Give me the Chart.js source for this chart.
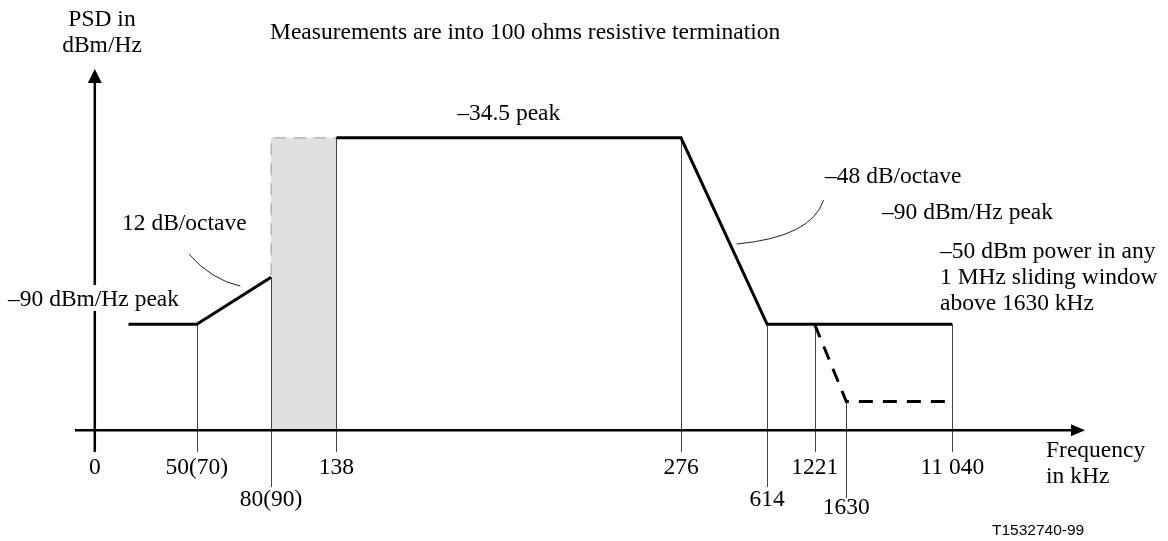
<!DOCTYPE html>
<html>
<head>
<meta charset="utf-8">
<title>PSD mask</title>
<script src="https://cdn.jsdelivr.net/npm/chart.js@4.4.1/dist/chart.umd.min.js"></script>
<style>
  body { margin: 0; background: #fff; }
</style>
</head>
<body>
<canvas id="psd" width="1168" height="541"></canvas>
<script>
// labelled frequencies, placed on a schematic (not to scale) axis
var freqLabels = ['0', '50(70)', '80(90)', '138', '276', '614', '1221', '1630', '11 040'];
var freqPos = [0, 10.3, 17.8, 24.4, 59.2, 67.9, 72.7, 75.9, 86.6];
// mask level where each tick line starts (dBm/Hz)
var tickTop = [null, -90, -76, -34.5, -34.5, -90, -90, -113, -90];

// mask segments
var lowBandX = [3.4, 10.3, 17.8];
var lowBandY = [-90, -90, -76];
var passBandX = [24.4, 59.2, 67.9, 86.6];
var passBandY = [-34.5, -34.5, -90, -90];
var windowX = [72.7, 75.9, 86.6];
var windowY = [-90, -113, -113];

var peakLevel = -34.5;
var axisLevel = -121.5;

// which row each tick label sits on
var tickRow = [0, 0, 1, 0, 0, 1, 0, 2, 0];
var rowLine = [452, 487, 498];
var rowText = [474, 506, 514];

var SERIF = '23.5px "Liberation Serif", "Times New Roman", serif';

function pts(xs, ys) {
    return xs.map(function (x, i) { return { x: x, y: ys[i] }; });
}

function seg(xs, ys, dash) {
    return {
        data: pts(xs, ys),
        showLine: true,
        borderColor: '#000',
        borderWidth: 3,
        borderDash: dash || [],
        pointRadius: 0,
        clip: false,
        tension: 0
    };
}

var maskPlugin = {
    id: 'mask',
    beforeDatasetsDraw: function (chart) {
        var ctx = chart.ctx;
        var xs = chart.scales.x, ys = chart.scales.y;
        var X = function (v) { return xs.getPixelForValue(v); };
        var Y = function (v) { return ys.getPixelForValue(v); };
        ctx.save();

        // shaded transition band 80..138
        var bx0 = X(freqPos[2]), bx1 = X(freqPos[3]);
        ctx.fillStyle = '#e0e0e0';
        ctx.fillRect(bx0, Y(peakLevel), bx1 - bx0, Y(axisLevel) - Y(peakLevel));
        ctx.strokeStyle = '#9a9a9a';
        ctx.lineWidth = 1;
        ctx.setLineDash([12, 8]);
        ctx.beginPath();
        ctx.moveTo(bx0, Y(tickTop[2]) - 2);
        ctx.lineTo(bx0, Y(peakLevel));
        ctx.lineTo(bx1, Y(peakLevel));
        ctx.stroke();
        ctx.setLineDash([]);

        // tick lines
        ctx.strokeStyle = '#444';
        ctx.lineWidth = 1;
        for (var i = 1; i < freqPos.length; i++) {
            var px = Math.round(X(freqPos[i])) + 0.5;
            ctx.beginPath();
            ctx.moveTo(px, Y(tickTop[i]));
            ctx.lineTo(px, rowLine[tickRow[i]]);
            ctx.stroke();
        }

        // leader lines for the slope notes
        ctx.strokeStyle = '#222';
        ctx.beginPath();
        ctx.moveTo(X(9.5), Y(-69.1));
        ctx.quadraticCurveTo(X(11.8), Y(-76.8), X(14.7), Y(-78.6));
        ctx.moveTo(X(73.6), Y(-53.0));
        ctx.quadraticCurveTo(X(72.4), Y(-64.0), X(64.8), Y(-66.1));
        ctx.stroke();

        // axes with arrow heads
        var ox = X(0), oy = Y(axisLevel);
        var a = chart.chartArea;
        ctx.strokeStyle = '#000';
        ctx.fillStyle = '#000';
        ctx.lineWidth = 2.5;
        ctx.beginPath();
        ctx.moveTo(ox, a.bottom);
        ctx.lineTo(ox, a.top + 12);
        ctx.moveTo(a.left, oy);
        ctx.lineTo(a.right - 12, oy);
        ctx.stroke();
        ctx.beginPath();
        ctx.moveTo(ox, a.top);
        ctx.lineTo(ox - 7, a.top + 14);
        ctx.lineTo(ox + 7, a.top + 14);
        ctx.closePath();
        ctx.moveTo(a.right, oy);
        ctx.lineTo(a.right - 14, oy - 6);
        ctx.lineTo(a.right - 14, oy + 6);
        ctx.closePath();
        ctx.fill();
        ctx.restore();
    },
    afterDraw: function (chart) {
        var ctx = chart.ctx;
        var xs = chart.scales.x, ys = chart.scales.y;
        ctx.save();
        ctx.font = SERIF;
        ctx.fillStyle = '#000';
        ctx.textBaseline = 'alphabetic';

        // tick labels
        ctx.textAlign = 'center';
        freqLabels.forEach(function (lab, i) {
            ctx.fillText(lab, xs.getPixelForValue(freqPos[i]), rowText[tickRow[i]]);
        });

        ctx.fillText('PSD in', 102, 26);
        ctx.fillText('dBm/Hz', 102, 52);
        var mid = (xs.getPixelForValue(passBandX[0]) + xs.getPixelForValue(passBandX[1])) / 2;
        ctx.fillText('\u201334.5 peak', mid, ys.getPixelForValue(peakLevel) - 18);

        ctx.textAlign = 'left';
        ctx.fillText('Measurements are into 100 ohms resistive termination', 270, 39);
        ctx.fillText('12 dB/octave', 122, 230);

        var lowNote = '\u201390 dBm/Hz peak';
        ctx.fillStyle = '#fff';
        ctx.fillRect(8, 285, ctx.measureText(lowNote).width, 26);
        ctx.fillStyle = '#000';
        ctx.fillText(lowNote, 8, 306);

        ctx.fillText('\u201348 dB/octave', 825, 183);
        ctx.fillText('\u201390 dBm/Hz peak', 882, 219);
        ctx.fillText('\u201350 dBm power in any', 940, 258);
        ctx.fillText('1 MHz sliding window', 940, 284);
        ctx.fillText('above 1630 kHz', 940, 310);
        ctx.fillText('Frequency', 1046, 457);
        ctx.fillText('in kHz', 1046, 483);

        ctx.font = '15.5px "Liberation Sans", Arial, sans-serif';
        ctx.fillText('T1532740-99', 992, 535);
        ctx.restore();
    }
};

new Chart(document.getElementById('psd'), {
    type: 'scatter',
    data: {
        datasets: [
            seg(lowBandX, lowBandY),
            seg(passBandX, passBandY),
            seg(windowX, windowY, [14, 10])
        ]
    },
    options: {
        responsive: false,
        devicePixelRatio: 1,
        animation: false,
        layout: { padding: { left: 75, right: 83, top: 69, bottom: 89 } },
        plugins: { legend: { display: false }, tooltip: { enabled: false } },
        scales: {
            x: { type: 'linear', min: -2, max: 100, display: false },
            y: { type: 'linear', min: -128, max: -14, display: false }
        }
    },
    plugins: [maskPlugin]
});
</script>
</body>
</html>
